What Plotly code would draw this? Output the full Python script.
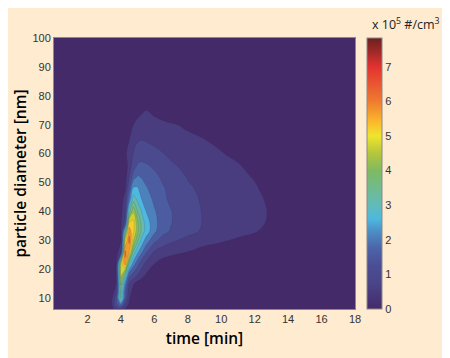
#!/usr/bin/env python3
import plotly.graph_objects as go

time_min = [0, 3, 3.4, 3.7, 4, 4.25, 4.5, 4.75, 5, 5.25, 5.5, 6, 6.5, 7, 8, 9, 10, 11, 12, 13, 18]
diameter_nm = [6.2, 8, 10, 12, 15, 18, 22, 26, 30, 33, 36, 40, 44, 48, 52, 56, 60, 65, 70, 75, 80, 100]

# one row per diameter, in 1e5 #/cm3
conc = [
    [0, 0, .15, .8, .9, .5, .2, 0, 0, 0, 0, 0, 0, 0, 0, 0, 0, 0, 0, 0, 0],
    [0, 0, .25, 1.3, 2.2, 1.0, .4, .1, 0, 0, 0, 0, 0, 0, 0, 0, 0, 0, 0, 0, 0],
    [0, 0, .2, 1.2, 3.7, 1.7, .55, .2, 0, 0, 0, 0, 0, 0, 0, 0, 0, 0, 0, 0, 0],
    [0, 0, .1, .8, 3.6, 1.8, .7, .3, .05, 0, 0, 0, 0, 0, 0, 0, 0, 0, 0, 0, 0],
    [0, 0, 0, .45, 4.1, 2.3, 1.0, .55, .3, .1, 0, 0, 0, 0, 0, 0, 0, 0, 0, 0, 0],
    [0, 0, 0, .35, 4.8, 3.4, 1.7, 1.3, 1.0, .75, .45, .1, 0, 0, 0, 0, 0, 0, 0, 0, 0],
    [0, 0, 0, .2, 4.6, 5.9, 3.3, 2.3, 1.7, 1.2, .9, .52, .3, .2, .1, 0, 0, 0, 0, 0, 0],
    [0, 0, 0, .1, 1.0, 6.1, 5.5, 3.4, 2.6, 2.1, 1.6, .95, .75, .65, .5, .3, .15, .05, 0, 0, 0],
    [0, 0, 0, .05, .4, 4.8, 6.2, 4.6, 3.6, 2.8, 2.3, 1.65, 1.3, 1.1, .85, .7, .58, .42, .2, 0, 0],
    [0, 0, 0, 0, .45, 3.3, 5.8, 5.1, 4.1, 3.3, 2.8, 2.1, 1.65, 1.45, 1.15, .92, .78, .68, .56, .2, 0],
    [0, 0, 0, 0, .4, 1.2, 5.2, 5.2, 4.1, 3.3, 2.8, 2.15, 1.75, 1.52, 1.2, .96, .82, .7, .6, .44, 0],
    [0, 0, 0, 0, .3, .9, 3.3, 4.4, 3.5, 2.95, 2.5, 2.05, 1.75, 1.52, 1.16, .96, .83, .72, .61, .46, 0],
    [0, 0, 0, 0, .2, .75, 2.1, 3.3, 2.9, 2.5, 2.3, 1.9, 1.6, 1.42, 1.12, .94, .82, .71, .6, .42, 0],
    [0, 0, 0, 0, 0, .4, 1.5, 2.6, 2.55, 2.25, 2.05, 1.8, 1.55, 1.38, 1.06, .9, .78, .68, .56, .3, 0],
    [0, 0, 0, 0, 0, .25, 1.0, 1.75, 2.05, 1.95, 1.85, 1.62, 1.42, 1.25, .97, .84, .72, .62, .46, .12, 0],
    [0, 0, 0, 0, 0, .15, .75, 1.2, 1.55, 1.6, 1.55, 1.4, 1.2, 1.06, .87, .74, .64, .54, .3, 0, 0],
    [0, 0, 0, 0, 0, .4, .7, 1.02, 1.2, 1.25, 1.22, 1.12, 1.02, .9, .74, .62, .53, .36, .15, 0, 0],
    [0, 0, 0, 0, 0, .1, .48, .8, .95, .98, .95, .88, .78, .7, .6, .5, .36, .2, .05, 0, 0],
    [0, 0, 0, 0, 0, 0, .2, .5, .7, .78, .8, .7, .62, .55, .42, .25, .1, 0, 0, 0, 0],
    [0, 0, 0, 0, 0, 0, 0, .1, .25, .4, .5, .35, .2, .1, 0, 0, 0, 0, 0, 0, 0],
    [0, 0, 0, 0, 0, 0, 0, 0, 0, 0, 0, 0, 0, 0, 0, 0, 0, 0, 0, 0, 0],
    [0, 0, 0, 0, 0, 0, 0, 0, 0, 0, 0, 0, 0, 0, 0, 0, 0, 0, 0, 0, 0],
]

x_ticks = [2, 4, 6, 8, 10, 12, 14, 16, 18]
y_ticks = [10, 20, 30, 40, 50, 60, 70, 80, 90, 100]
cbar_ticks = [0, 1, 2, 3, 4, 5, 6, 7]

Z_MAX = 7.83
BG = "#FEEBD0"
TICK_FONT = dict(family="Liberation Sans", size=11, color="#333333")
TITLE_FONT = dict(family="Open Sans", size=15.5, color="#000000", weight=600)

colorscale = [
    [0 / Z_MAX, "#452A69"], [0.75 / Z_MAX, "#4B4589"], [1.25 / Z_MAX, "#4B4E94"], [1.75 / Z_MAX, "#4C64A8"],
    [2.25 / Z_MAX, "#4C8FC6"], [2.6 / Z_MAX, "#4DB8DF"], [3 / Z_MAX, "#62BBB8"], [4 / Z_MAX, "#7FBA62"],
    [4.5 / Z_MAX, "#B5C63A"], [5 / Z_MAX, "#EFE52E"], [5.4 / Z_MAX, "#FBB92B"],
    [6 / Z_MAX, "#EF7B30"], [7 / Z_MAX, "#E23230"], [7.4 / Z_MAX, "#A52A28"],
    [1, "#6B2020"],
]

fig = go.Figure()

# heatmap sits under the contour layer, it is only there for the smooth colour bar
fig.add_trace(go.Heatmap(
    x=time_min, y=diameter_nm, z=conc, colorscale=colorscale, zmin=0, zmax=Z_MAX,
    hoverinfo="skip",
    colorbar=dict(
        thickness=15, len=1, lenmode="fraction", x=1.04, xanchor="left", y=0.5, yanchor="middle",
        tickmode="array", tickvals=cbar_ticks, ticks="", tickfont=TICK_FONT,
        outlinewidth=1, outlinecolor="#8a8a8a", ypad=0, xpad=0,
    ),
))
fig.add_trace(go.Contour(
    x=time_min, y=diameter_nm, z=conc, colorscale=colorscale, zmin=0, zmax=Z_MAX,
    showscale=False, autocontour=False,
    contours=dict(start=0.5, end=7.5, size=0.5, coloring="fill"),
    line=dict(color="rgba(40,40,80,0.25)", width=0.6, smoothing=1),
))

# the page has an 8px body margin, so the figure is laid out 8px short of the window
fig.update_layout(
    width=442, height=350, autosize=False,
    paper_bgcolor=BG, plot_bgcolor="#452A69",
    margin=dict(l=46, r=95, t=30, b=49),
    showlegend=False,
    annotations=[dict(
        text="x 10<sup>5</sup> #/cm<sup>3</sup>", xref="paper", yref="paper",
        x=1.05, y=1.01, xanchor="left", yanchor="bottom", showarrow=False,
        font=dict(family="Open Sans", size=12.5, color="#222222"),
    )],
)
fig.update_xaxes(
    range=[0, 18], tickvals=x_ticks, ticks="", tickfont=TICK_FONT, showgrid=False, zeroline=False,
    title=dict(text="time [min]", font=TITLE_FONT, standoff=8),
    showline=True, linecolor="#8a8a8a", linewidth=1, mirror=True,
)
fig.update_yaxes(
    range=[6.2, 100], tickvals=y_ticks, ticks="", tickfont=TICK_FONT, showgrid=False, zeroline=False,
    title=dict(text="particle diameter [nm]", font=TITLE_FONT, standoff=2),
    showline=True, linecolor="#8a8a8a", linewidth=1, mirror=True,
)

fig.write_html("out.html")
